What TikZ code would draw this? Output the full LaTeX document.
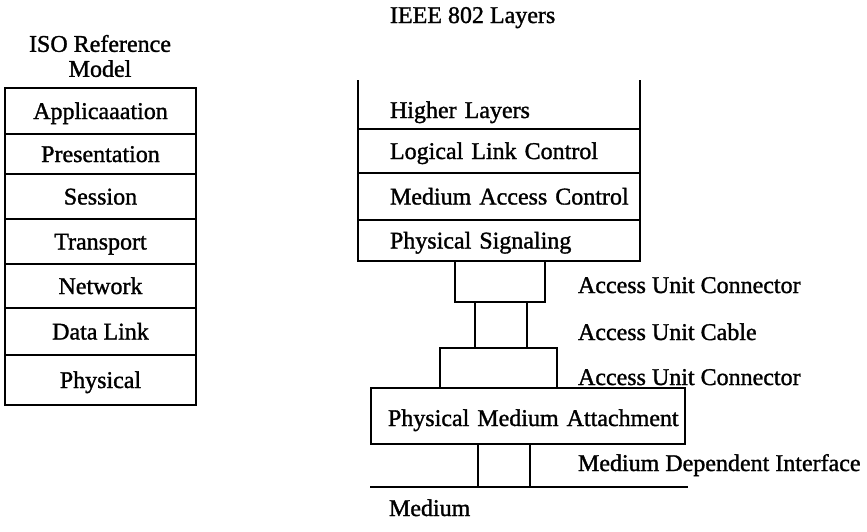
\documentclass[tikz,border=0pt]{standalone}
\usepackage{fontspec}
\setmainfont{Liberation Serif}
\newfontfamily\printfont{Liberation Serif}[FakeBold=1.3]
\newcommand\padleft[1]{\hspace*{#1pt}}
\begin{document}
\begin{tikzpicture}[x=1pt,y=-1pt,
  every node/.style={inner sep=0pt, outer sep=0pt, font=\printfont\fontsize{24}{25}\selectfont},
  lay/.style={draw, line width=2.6pt, text height=19pt, text depth=3pt},
  isorow/.style={lay, minimum width=191pt, align=center},
  ieeerow/.style={lay, text width=282pt, align=left},
  plug/.style={draw, line width=2.6pt},
  tag/.style={anchor=west, text height=19pt, text depth=3pt},
  wire/.style={line width=2.6pt}]
\useasboundingbox (0,0) rectangle (867,531);

% ISO reference model stack
\node[align=center] (isotitle) at (100,56) {ISO Reference\\Model};
\node[isorow, minimum height=46pt] (app)   at (100.5,111)   {Applicaaation};
\node[isorow, minimum height=40pt] (pres)  at (100.5,154)   {Presentation};
\node[isorow, minimum height=45pt] (sess)  at (100.5,196.5) {Session};
\node[isorow, minimum height=45pt] (trans) at (100.5,241.5) {Transport};
\node[isorow, minimum height=44pt] (net)   at (100.5,286)   {Network};
\node[isorow, minimum height=47pt] (dl)    at (100.5,331.5) {Data Link};
\node[isorow, minimum height=50pt] (phy)   at (100.5,380)   {Physical};

% IEEE 802 layers, open at the top
\node[tag] (ieeetitle) at (390,15) {IEEE 802 Layers};
\node[text width=282pt, align=left, minimum height=38pt,
      text height=19pt, text depth=3pt] (hl) at (499,110) {\mbox{\padleft{32}Higher Layers}};
\draw[wire] ([yshift=11pt]hl.north west) -- (hl.south west);
\draw[wire] ([yshift=11pt]hl.north east) -- (hl.south east);
\node[ieeerow, minimum height=44pt] (llc) at (499,151)   {\mbox{\padleft{32}Logical Link Control}};
\node[ieeerow, minimum height=47pt] (mac) at (499,196.5) {\mbox{\padleft{32}Medium Access Control}};
\node[ieeerow, minimum height=41pt] (ps)  at (499,240.5) {\mbox{\padleft{32}Physical Signaling}};

% attachment unit chain down to the medium
\node[plug, minimum width=90pt,  minimum height=41pt] (auc1)  at (500,281.5) {};
\node[plug, minimum width=52pt,  minimum height=46pt] (cable) at (501,325)   {};
\node[plug, minimum width=117pt, minimum height=40pt] (auc2)  at (498.5,368) {};
\node[lay, text width=314pt, align=left, minimum height=56pt,
      text height=20pt, text depth=-4pt]
     (pma) at (528,416) {\mbox{\padleft{17}Physical Medium Attachment}};
\node[plug, minimum width=52pt,  minimum height=43pt] (mdi)   at (504,465.5) {};
\coordinate (medL) at (370,487);
\coordinate (medR) at (688,487);
\draw[wire] (medL) -- (medR);

% labels
\node[tag] (lauc1)  at (578,285) {Access Unit Connector};
\node[tag] (lcable) at (578,332) {Access Unit Cable};
\node[tag] (lauc2)  at (578,377) {Access Unit Connector};
\node[tag] (lmdi)   at (578,463) {Medium Dependent Interface};
\node[tag] (lmed)   at (389,508) {Medium};
\end{tikzpicture}
\end{document}
